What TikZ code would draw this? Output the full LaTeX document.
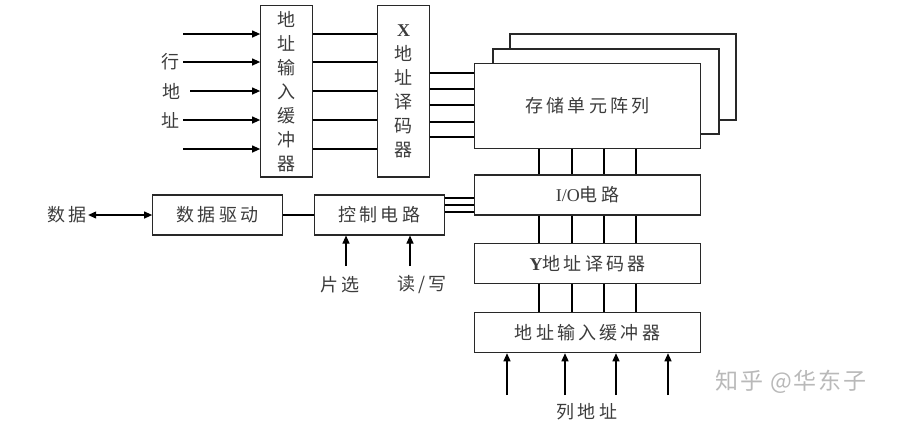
\documentclass[tikz,border=0pt]{standalone}
\usepackage{fontspec}
\setmainfont{Noto Sans CJK SC}[LetterSpace=18]
\newfontfamily\lat{Liberation Serif}
\newfontfamily\markfont{Noto Sans CJK SC}[LetterSpace=8]
\usetikzlibrary{arrows.meta, positioning, calc}

\begin{document}
\begin{tikzpicture}[x=1bp, y=-1bp, line width=1.1bp,
  font=\fontsize{18bp}{24bp}\selectfont,
  blk/.style={draw=edge, fill=white, inner sep=0pt, text=ink},
  sig/.style={-{Triangle[length=8bp,width=7bp]}},
  lbl/.style={text=ink, inner sep=1bp}]
  \definecolor{edge}{RGB}{40,40,40}
  \definecolor{ink}{RGB}{60,60,60}
  \useasboundingbox (0,0) rectangle (898,423);
  % --- row address: buffer and X decoder ---
  \node[blk, minimum width=51.6bp, minimum height=171.3bp, align=center]
    (abuf) at (286.5,91.3) {地\\址\\输\\入\\缓\\冲\\器};
  \node[blk, minimum width=51.6bp, minimum height=171.3bp, align=center]
    (xdec) at (403.5,91.3) {{\lat\bfseries X}\\地\\址\\译\\码\\器};
  \foreach \y/\x in {34/183,62/183,91/190,120/183,149/183}
    \draw[sig] (\x,\y) -- (abuf.west |- 0,\y);
  \foreach \y in {34,62,91,120,149}
    \draw (abuf.east |- 0,\y) -- (xdec.west |- 0,\y);
  \node[lbl] (rowa) at (170,62) {行};
  \node[lbl] (rowb) at (171,91) {地};
  \node[lbl] (rowc) at (170,120) {址};
  % --- memory array (stacked planes) ---
  \node[blk, minimum width=226bp, minimum height=86bp] (mem3) at (623,77) {};
  \node[blk, minimum width=226bp, minimum height=85bp] (mem2) at (606,91.5) {};
  \node[blk, minimum width=226.4bp, minimum height=85bp] (mem) at (587.5,105.8) {存储单元阵列};
  \foreach \y in {73,89,105,122,137}
    \draw (xdec.east |- 0,\y) -- (mem.west |- 0,\y);
  % --- column path ---
  \node[blk, minimum width=226.4bp, minimum height=40bp] (io) at (587.5,195) {{\lat I/O}电路};
  \node[blk, minimum width=226.4bp, minimum height=40bp] (ydec) at (587.5,263.3) {{\lat\bfseries Y}地址译码器};
  \node[blk, minimum width=226.4bp, minimum height=40bp] (cbuf) at (587.5,332.7) {地址输入缓冲器};
  \foreach \x in {539,572,604,636} {
    \draw (mem.south -| \x,0) -- (io.north -| \x,0);
    \draw (io.south -| \x,0) -- (ydec.north -| \x,0);
    \draw (ydec.south -| \x,0) -- (cbuf.north -| \x,0);
  }
  \foreach \x in {507,565,616,668}
    \draw[sig] (\x,395) -- (cbuf.south -| \x,0);
  \node[lbl] (cola) at (587,412) {列地址};
  % --- data and control ---
  \node[blk, minimum width=129.6bp, minimum height=40bp] (drv) at (217.5,215) {数据驱动};
  \node[blk, minimum width=130.3bp, minimum height=40bp] (ctrl) at (379.2,215) {控制电路};
  \node[lbl] (data) at (67,215) {数据};
  \draw[{Triangle[length=8bp,width=7bp]}-{Triangle[length=8bp,width=7bp]}] (data.east) -- (drv.west);
  \draw (drv) -- (ctrl);
  \foreach \y in {198,205,212}
    \draw (ctrl.east |- 0,\y) -- (io.west |- 0,\y);
  \draw[sig] (346,266) -- (ctrl.south -| 346,0);
  \draw[sig] (410,266) -- (ctrl.south -| 410,0);
  \node[lbl] (cs) at (340,285) {片选};
  \node[lbl] (rw) at (422,285) {读/写};
  % --- watermark ---
  \node[text=gray!55, font=\markfont\fontsize{23bp}{23bp}\selectfont] (mark) at (791,382) {知乎 @华东子};
\end{tikzpicture}
\end{document}
